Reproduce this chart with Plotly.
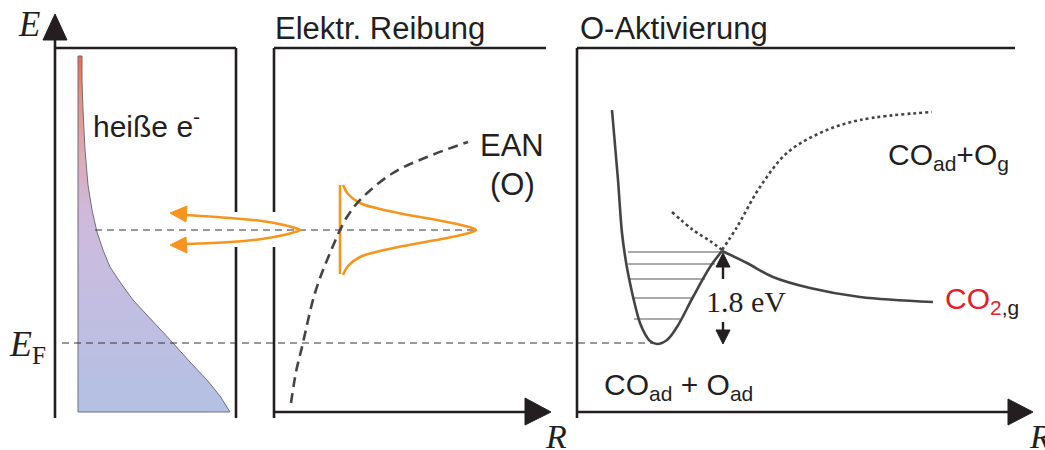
import plotly.graph_objects as go

W, H = 1045, 450
INK = "#231f20"
GREY = "#444444"
ORANGE = "#f7941d"
RED = "#e3202a"
SANS = "Liberation Sans, Arial, sans-serif"
SERIF = "Liberation Serif, Times New Roman, serif"

# ---------- frames (pixel coordinates of the schematic) ----------
frame_segments = [
    # panel 1
    ([55, 55], [418, 38]),
    ([55, 236], [48, 48]),
    ([236, 236], [48, 212]),
    ([236, 236], [247, 418]),
    # panel 2
    ([274, 274], [48, 212]),
    ([274, 274], [247, 418]),
    ([274, 546], [48, 48]),
    ([274, 530], [412, 412]),
    # panel 3
    ([577, 577], [48, 418]),
    ([577, 1015], [48, 48]),
    ([577, 1012], [412, 412]),
]
arrowheads_black = [
    ([55, 43, 67], [14, 40, 40]),          # E axis
    ([551, 525, 525], [412, 398, 425]),    # R axis panel 2
    ([1033, 1008, 1008], [412, 399, 425]), # R axis panel 3
    ([723, 716, 730], [253, 267, 267]),    # 1.8 eV up
    ([723, 716, 730], [344, 330, 330]),    # 1.8 eV down
]
eV_shafts = [([723, 723], [266, 279]), ([723, 723], [322, 331])]

# ---------- panel 1: hot-electron distribution ----------
dist_x = [78, 78, 82, 82, 83, 85, 88, 92, 97, 103, 110, 120, 133, 150, 173, 190, 207, 220, 230, 78]
dist_y = [412, 56, 56, 80, 110, 150, 185, 210, 232, 250, 267, 282, 300, 318, 343, 362, 380, 396, 412, 412]

# ---------- dashed reference levels ----------
level_hot_x = [95, 477]
level_hot_y = [230, 230]
level_F_x = [62, 655]
level_F_y = [343, 343]

# ---------- orange wave packets ----------
packet_left_x = [186, 230, 262, 284, 295, 300, 295, 284, 262, 230, 186]
packet_left_y = [215, 218, 221, 225, 228, 230, 232, 235, 239, 242, 244]
orange_heads = [
    ([170, 187, 186], [213, 206, 222]),
    ([170, 186, 187], [245, 237, 253]),
]
packet_right_x = [343, 348, 360, 380, 403, 447, 469, 476, 469, 447, 403, 380, 360, 348, 343]
packet_right_y = [185, 194, 203, 209, 214, 222, 227, 230, 233, 238, 246, 251, 257, 266, 275]
packet_bar_x = [340, 340]
packet_bar_y = [185, 274]

# ---------- panel 2: EAN curve ----------
ean_x = [291, 296, 302, 315, 330, 347, 363, 393, 427, 468]
ean_y = [403, 372, 347, 293, 253, 217, 197, 173, 157, 142]

# ---------- panel 3: potential curves ----------
well_x = [612, 618, 622, 626, 630, 635, 640, 645, 650, 657, 667, 677, 693, 710, 722]
well_y = [110, 180, 233, 262, 283, 305, 323, 334, 341, 344, 340, 327, 297, 267, 251]
co2_x = [722, 747, 773, 810, 860, 933]
co2_y = [251, 263, 277, 288, 297, 302]
dot_left_x = [672, 693, 710, 722]
dot_left_y = [212, 230, 241, 250]
dot_right_x = [722, 737, 760, 787, 820, 860, 932]
dot_right_y = [250, 227, 187, 153, 133, 120, 112]
vib_levels_y = [252, 264, 279, 298, 319]
vib_levels_x0 = [628, 628, 630, 632, 634]
vib_levels_x1 = [720, 715, 705, 693, 680]

fig = go.Figure()

def line(xs, ys, color=INK, width=2.6, dash="solid", shape="linear"):
    fig.add_trace(go.Scatter(x=xs, y=ys, mode="lines", hoverinfo="skip",
                             line=dict(color=color, width=width, dash=dash, shape=shape)))

def poly(xs, ys, color):
    fig.add_trace(go.Scatter(x=xs + [xs[0]], y=ys + [ys[0]], mode="lines", fill="toself",
                             fillcolor=color, line=dict(color=color, width=1), hoverinfo="skip"))

# distribution with vertical gradient
fig.add_trace(go.Scatter(
    x=dist_x, y=dist_y, mode="lines", fill="toself", hoverinfo="skip",
    line=dict(color="#6f6f7a", width=1),
    fillgradient=dict(type="vertical", start=412, stop=56,
                      colorscale=[[0.0, "#b3c1e3"], [0.45, "#c9bcdf"], [0.58, "#d0b8d8"],
                                  [0.72, "#dcaab6"], [0.88, "#e69286"], [1.0, "#f06a45"]]),
))

# dashed levels
line(level_hot_x, level_hot_y, color="#333333", width=1, dash="7px,5px")
line(level_F_x, level_F_y, color="#333333", width=1, dash="7px,5px")

# frames
for xs, ys in frame_segments:
    line(xs, ys)
for xs, ys in arrowheads_black:
    poly(xs, ys, INK)
for xs, ys in eV_shafts:
    line(xs, ys, width=2.4)

# orange packets
line(packet_left_x, packet_left_y, color=ORANGE, width=2.6, shape="spline")
for xs, ys in orange_heads:
    poly(xs, ys, ORANGE)
line(packet_right_x, packet_right_y, color=ORANGE, width=2.6, shape="spline")
line(packet_bar_x, packet_bar_y, color=ORANGE, width=2.6)

# EAN
line(ean_x, ean_y, color=GREY, width=2.6, dash="10px,6px", shape="spline")

# vibrational levels
for y, x0, x1 in zip(vib_levels_y, vib_levels_x0, vib_levels_x1):
    line([x0, x1], [y, y], color="#555555", width=1)

# potential curves
line(well_x, well_y, color=GREY, width=2.6, shape="spline")
line(co2_x, co2_y, color=GREY, width=2.6, shape="spline")
line(dot_left_x, dot_left_y, color=GREY, width=2.6, dash="dot", shape="spline")
line(dot_right_x, dot_right_y, color=GREY, width=2.6, dash="dot", shape="spline")

def text(x, y, s, size=30, family=SANS, xanchor="left", color=INK):
    fig.add_annotation(x=x, y=y, text=s, showarrow=False, xanchor=xanchor, yanchor="middle",
                       font=dict(family=family, size=size, color=color))

text(29, 24, "<i>E</i>", size=35, family=SERIF, xanchor="center")
text(7, 346, "<i>E</i><sub>F</sub>", size=36, family=SERIF)
text(91, 124, "heiße e<sup>-</sup>", size=30)
text(273, 28, "Elektr. Reibung", size=31)
text(578, 28, "O-Aktivierung", size=31)
text(512, 145, "EAN", xanchor="center", size=31)
text(512, 184, "(O)", xanchor="center", size=31)
text(886, 156, "CO<sub>ad</sub>+O<sub>g</sub>")
text(943, 300, "<span style='color:%s'>CO<sub>2</sub></span><sub>,g</sub>" % RED)
text(704, 301, "1.8 eV", size=30, family=SERIF)
text(602, 386, "CO<sub>ad</sub> + O<sub>ad</sub>")
text(556, 436, "<i>R</i>", size=34, family=SERIF, xanchor="center")
text(1040, 436, "<i>R</i>", size=34, family=SERIF, xanchor="center")

fig.update_layout(
    width=W, height=H, autosize=False, showlegend=False,
    margin=dict(l=0, r=0, t=0, b=0),
    paper_bgcolor="white", plot_bgcolor="white",
    xaxis=dict(range=[0, W], visible=False, fixedrange=True),
    yaxis=dict(range=[H, 0], visible=False, fixedrange=True),
)

fig.write_html("out.html", config={"displayModeBar": False},
               post_script="document.body.style.margin='0';document.body.style.overflow='hidden';")
